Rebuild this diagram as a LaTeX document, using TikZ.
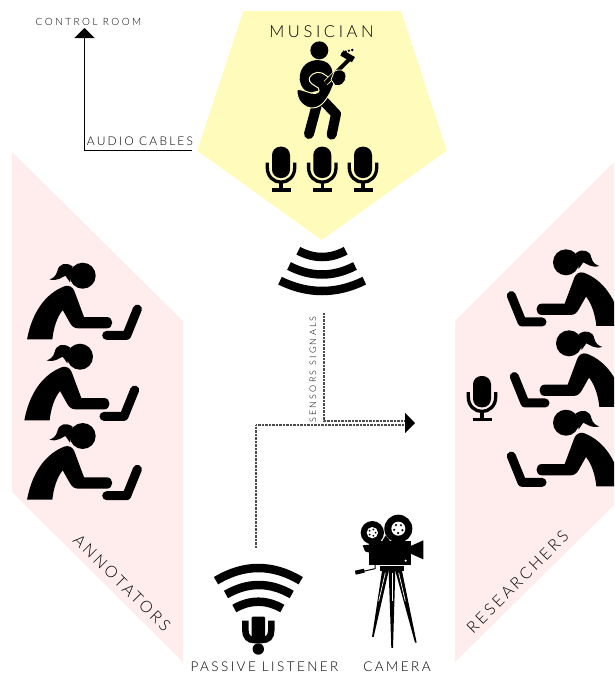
\documentclass[tikz,border=0pt]{standalone}
\usepackage{fontspec}
\setmainfont{Lato}[UprightFont=* Light]
\usetikzlibrary{arrows.meta}
\definecolor{pinkbg}{HTML}{FFECEC}
\definecolor{yellowbg}{HTML}{FFFBBB}
\newcommand{\sptext}[3]{{\fontsize{#1}{#1}\selectfont\addfontfeature{LetterSpace=#2}#3}}
\newcommand{\wv}[5]{% x1 x2 ychord yapex lw
  \pgfmathsetmacro{\cax}{#1+(#2-#1)/3}\pgfmathsetmacro{\cbx}{#2-(#2-#1)/3}\pgfmathsetmacro{\cy}{#3+4/3*(#4-#3)}
  \draw[line width=#5pt,black] (#1,#3) .. controls (\cax,\cy) and (\cbx,\cy) .. (#2,#3);}
\tikzset{
  lbl/.style={inner sep=0pt,text=black},
  audioline/.style={black,line width=1pt},
  sensorline/.style={black!70,line width=1.1pt,dash pattern=on 0.8pt off 0.6pt},
  pics/woman/.style={code={
    \begin{scope}[x=0.3333pt,y=-0.3333pt]
      \fill (0,0) circle (39);
      \fill (-30,-28) .. controls (-50,-42) and (-72,-36) .. (-76,-14) .. controls (-80,2) and (-90,8) .. (-100,11) .. controls (-76,18) and (-62,4) .. (-52,0) .. controls (-46,8) and (-42,14) .. (-38,20) -- cycle;
      \fill (-167,191) .. controls (-152,110) and (-112,53) .. (-53,31) .. controls (-40,28) and (-30,34) .. (-25,46) -- (4,124) -- (72,124) .. controls (94,124) and (94,158) .. (72,158) -- (-13,158) .. controls (-25,158) and (-32,152) .. (-38,142) -- (-60,103) .. controls (-78,125) and (-88,160) .. (-91,191) -- cycle;
      \draw[line width=9pt,line cap=round,line join=round] (72,179) -- (132,179) -- (164,100);
    \end{scope}}},
  pics/mic/.style={code={
    \fill[rounded corners=8.4pt] (-9,0) rectangle (9,31.3);
    \draw[line width=3.3pt] (-13.7,16) -- (-13.7,21) .. controls (-13.7,30) and (-7,35.5) .. (0,35.5) .. controls (7,35.5) and (13.7,30) .. (13.7,21) -- (13.7,16);
    \draw[line width=3.3pt] (0,35) -- (0,43.3);
    \draw[line width=3.3pt] (-9.5,43.3) -- (9.5,43.3);}}
}
\begin{document}
\begin{tikzpicture}[x=1pt,y=-1pt,line cap=butt]
\useasboundingbox (0,0) rectangle (614,675);
\clip (0,0) rectangle (614,675);
\fill[pinkbg] (12,152) -- (183,321) -- (183,662) -- (12,492) -- cycle;
\fill[pinkbg] (455,321) -- (614,162) -- (614,505) -- (455,662) -- cycle;
\fill[yellowbg] (243.3,11) -- (401,11) -- (446.7,150.7) -- (321.7,240) -- (197.3,150.7) -- cycle;

% women
\pic at (82.7,275.7) {woman};
\pic at (80,356.7) {woman};
\pic at (82.7,436) {woman};
\pic[xscale=-1] at (566,262.3) {woman};
\pic[xscale=-1] at (569,343.3) {woman};
\pic[xscale=-1] at (566,422.7) {woman};

% mics
\pic at (281,146.7) {mic};
\pic at (322.3,146.7) {mic};
\pic at (363,146.7) {mic};
\pic at (482,376) {mic};

% guitarist
\begin{scope}[shift={(285,38)},x=0.3333pt,y=-0.3333pt]
  \fill (103,37) circle (27);
  \draw[line width=10pt,line cap=round] (97,195) -- (72,288);
  \draw[line width=10pt,line cap=round,line join=round] (112,185) -- (153,228) -- (140,290);
  \fill (45,110) .. controls (50,76) and (85,58) .. (118,70) .. controls (147,80) and (150,120) .. (130,150) -- (70,165) .. controls (48,150) and (41,130) .. (45,110) -- cycle;
  \filldraw[draw=yellowbg,line width=1pt] (36,155) .. controls (34,190) and (60,212) .. (85,210) .. controls (112,207) and (125,182) .. (135,165) -- (150,130) -- (122,112) .. controls (105,98) and (85,100) .. (73,120) .. controls (70,135) and (85,140) .. (100,150) .. controls (108,162) and (95,170) .. (78,165) .. controls (60,160) and (45,152) .. (36,155) -- cycle;
  \draw[yellowbg,line width=5.4pt] (122,135) -- (190,68);
  \draw[line width=4pt] (122,135) -- (195,62);
  \fill[rotate around={-30:(188,55)}] (168,46) rectangle (208,64);
  \foreach \a/\b in {172/46,182/41,192/38,202/36}{\fill (\a,\b) circle (4);}
  \filldraw[draw=yellowbg,line width=0.8pt] (148,100) .. controls (160,92) and (182,92) .. (183,115) .. controls (183,135) and (165,148) .. (150,142) -- (138,125) -- cycle;
\end{scope}

% upper waves
\wv{298.3}{345.7}{250.7}{257}{8.5}
\wv{289}{355}{266}{274.5}{8.5}
\wv{280}{364.3}{280.7}{291}{8.5}

% passive listener icon
\wv{216}{300.7}{580.7}{568}{8.5}
\wv{226}{291.7}{594.5}{585}{8.5}
\wv{234.3}{282.3}{608.5}{601.7}{8.5}
\draw[line width=6.5pt] (245.3,620.7) -- (245.3,630) .. controls (245.3,637) and (249,640) .. (254,640) -- (262,640) .. controls (268,640) and (271.3,637) .. (271.3,630) -- (271.3,620.7);
\fill[rounded corners=1pt] (251.7,616.7) rectangle (265,640);
\fill (258.3,649) circle (5.7);

% camera
\begin{scope}[shift={(350,512)},x=0.3333pt,y=-0.3333pt]
  \fill (58,88) rectangle (182,158);
  \fill (67,62) circle (35);
  \fill (145,50) circle (42);
  \fill (95,90) -- (107,70) -- (122,90) -- cycle;
  \fill (182,102) -- (220,85) -- (220,142) -- (182,125) -- cycle;
  \fill (38,100) -- (58,98) -- (58,122) -- (45,118) -- cycle;
  \fill[white] (167,146) circle (3.5);
  \fill[white] (67,62) circle (17) (145,50) circle (21);
  \foreach \a in {0,72,...,288}{\fill (67,62) ++(\a:10) circle (3);\fill (145,50) ++(\a+20:13) circle (3.6);}
  \fill (90,162) rectangle (162,177);
  \draw[line width=1pt] (75,158) -- (75,170) -- (40,178);
  \fill (15,176) -- (42,170) -- (44,182) -- (17,188) -- cycle;
  \fill (96,177) -- (116,177) -- (71,375) -- (66,375) -- cycle;
  \fill (116,177) -- (136,177) -- (129,408) -- (124,408) -- cycle;
  \fill (136,177) -- (156,177) -- (200,392) -- (195,392) -- cycle;
  \draw[white,line width=0.7pt] (106,182) -- (86,268);
  \draw[white,line width=0.7pt] (126,182) -- (126,268);
  \draw[white,line width=0.7pt] (146,182) -- (166,268);
\end{scope}

% labels
\node[lbl] (ctrl) at (88.5,22) {\sptext{10}{25}{CONTROL ROOM}};
\node[lbl] (audio) at (140,141) {\sptext{12}{18}{AUDIO CABLES}};
\node[lbl] (mus) at (321.5,32) {\sptext{16.5}{22}{MUSICIAN}};
\node[lbl,rotate=90] (sens) at (313,369.5) {\sptext{9}{25}{SENSORS SIGNALS}};
\node[lbl] (pass) at (264.5,667) {\sptext{13.5}{18}{PASSIVE LISTENER}};
\node[lbl] (cam) at (397,667) {\sptext{13.5}{18}{CAMERA}};
\node[lbl,rotate=-45] (ann) at (122,583) {\sptext{16}{18}{ANNOTATORS}};
\node[lbl,rotate=45] (res) at (517.5,582) {\sptext{16}{18}{RESEARCHERS}};

% connectors
\coordinate (a1) at (192,150);
\coordinate (a2) at (84.5,150);
\coordinate (a3) at (84.5,28);
\draw[audioline,-{Triangle[width=20pt,length=10pt]}] (a1) -- (a2) -- (a3);
\coordinate (s1) at (324,313);
\coordinate (s2) at (324,421);
\coordinate (s3) at (405,421);
\coordinate (p1) at (256,548);
\coordinate (p2) at (256,425);
\coordinate (p3) at (405,425);
\coordinate (t1) at (405,423);
\coordinate (t2) at (415,423);
\draw[sensorline] (s1) -- (s2) -- (s3);
\draw[sensorline] (p1) -- (p2) -- (p3);
\draw[-{Triangle[width=20pt,length=10pt]},line width=0.1pt] (t1) -- (t2);
\end{tikzpicture}
\end{document}
